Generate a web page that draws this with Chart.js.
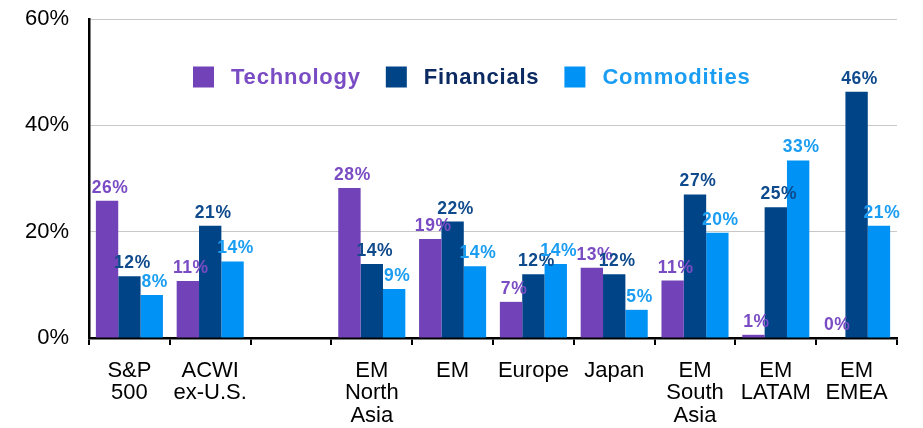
<!DOCTYPE html>
<html>
<head>
<meta charset="utf-8">
<script src="https://cdn.jsdelivr.net/npm/chart.js@4.4.0/dist/chart.umd.min.js"></script>
<style>
  html, body { margin: 0; padding: 0; background: #fff; }
  #wrap { width: 923px; height: 428px; position: relative; }
</style>
</head>
<body>
<div id="wrap"><canvas id="chart"></canvas></div>
<script>
// categories (empty slot after ACWI is a spacer in the original)
const categories = [
  ["S&P", "500"], ["ACWI", "ex-U.S."], "", ["EM", "North", "Asia"], "EM",
  "Europe", "Japan", ["EM", "South", "Asia"], ["EM", "LATAM"], ["EM", "EMEA"]
];
const technology  = [25.8, 10.7, null, 28.2, 18.6, 6.8, 13.2, 10.8, 0.6, 0];
const financials  = [11.6, 21.1, null, 13.9, 21.9, 12.0, 12.0, 27.0, 24.6, 46.3];
const commodities = [8.1, 14.4, null, 9.2, 13.5, 13.9, 5.3, 19.8, 33.4, 21.1];
const yTicks = [0, 20, 40, 60];

const barColors   = ["#7142b8", "#004488", "#0092f5"];
const labelColors = ["#7a4cc4", "#0e4a8c", "#1a9df2"];
const legendText  = ["#7a4cc4", "#0c2a62", "#1a9df2"];

// value labels above each bar
const barLabels = {
  id: "barLabels",
  afterDatasetsDraw(chart) {
    const ctx = chart.ctx;
    ctx.save();
    ctx.font = "bold 17.5px 'Liberation Sans', Arial, sans-serif";
    ctx.letterSpacing = "0.6px";
    ctx.textAlign = "center";
    ctx.textBaseline = "alphabetic";
    chart.data.datasets.forEach((ds, i) => {
      const meta = chart.getDatasetMeta(i);
      meta.data.forEach((el, j) => {
        const v = ds.data[j];
        if (v === null) return;
        ctx.fillStyle = labelColors[i];
        ctx.fillText(Math.round(v) + "%", el.x + 3, el.y - 8);
      });
    });
    ctx.restore();
  }
};

// legend drawn inside the plot area
const innerLegend = {
  id: "innerLegend",
  afterDraw(chart) {
    const ctx = chart.ctx;
    const items = chart.data.datasets.map((d, i) => ({ label: d.label, i }));
    ctx.save();
    ctx.font = "bold 22px 'Liberation Sans', Arial, sans-serif";
    ctx.letterSpacing = "0.8px";
    ctx.textBaseline = "middle";
    const box = 21, gapBox = 17, gapItem = 25;
    let x = 193;
    const y = 77;
    items.forEach(it => {
      ctx.fillStyle = barColors[it.i];
      ctx.fillRect(x, y - box / 2, box, box);
      x += box + gapBox;
      ctx.fillStyle = legendText[it.i];
      ctx.fillText(it.label, x, y + 1);
      x += ctx.measureText(it.label).width + gapItem;
    });
    ctx.restore();
  }
};

const ds = (label, data, i) => ({
  label, data,
  backgroundColor: barColors[i],
  borderWidth: 0,
  categoryPercentage: 0.83,
  barPercentage: 1
});

new Chart(document.getElementById("chart"), {
  type: "bar",
  data: {
    labels: categories,
    datasets: [
      ds("Technology", technology, 0),
      ds("Financials", financials, 1),
      ds("Commodities", commodities, 2)
    ]
  },
  options: {
    responsive: true,
    maintainAspectRatio: false,
    animation: false,
    layout: { padding: { top: 19, right: 26, left: 0, bottom: 0 } },
    plugins: {
      legend: { display: false },
      tooltip: { enabled: false }
    },
    scales: {
      x: {
        offset: true,
        grid: {
          offset: true,
          drawOnChartArea: false,
          drawTicks: true,
          tickLength: 7,
          color: "#000",
          lineWidth: 2
        },
        border: { display: true, color: "#000", width: 2.5 },
        ticks: {
          color: "#000",
          maxRotation: 0,
          autoSkip: false,
          padding: 14,
          font: { family: "'Liberation Sans', Arial, sans-serif", size: 22, lineHeight: 1.04 }
        },
        afterFit(scale) { scale.height = 90; }
      },
      y: {
        min: 0,
        max: 60,
        afterBuildTicks(scale) { scale.ticks = yTicks.map(v => ({ value: v })); },
        grid: { color: "#c8c8c8", lineWidth: 1, drawTicks: false },
        border: { display: true, color: "#000", width: 2.5 },
        ticks: {
          color: "#000",
          padding: 20,
          callback: v => v + "%",
          font: { family: "'Liberation Sans', Arial, sans-serif", size: 22 }
        },
        afterFit(scale) {
          scale.width = 89;
          scale.paddingTop = 0;
          scale.paddingBottom = 0;
        }
      }
    }
  },
  plugins: [barLabels, innerLegend]
});
</script>
</body>
</html>
